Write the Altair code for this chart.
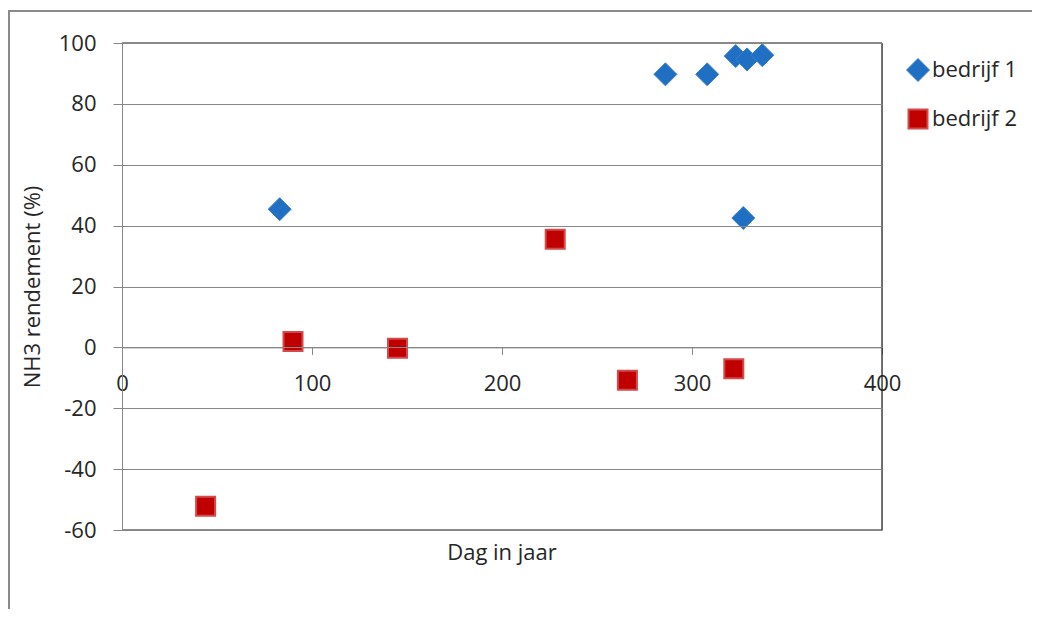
import altair as alt
import pandas as pd

series_names = ["bedrijf 1", "bedrijf 2"]
b1_day = [83, 286, 308, 323, 329, 337, 327]
b1_val = [45.4, 89.7, 89.7, 95.7, 94.6, 96.0, 42.5]
b2_day = [44, 90, 145, 228, 266, 322]
b2_val = [-52.2, 1.9, -0.3, 35.5, -10.8, -7.0]
x_ticks = [0, 100, 200, 300, 400]
y_ticks = [-60, -40, -20, 0, 20, 40, 60, 80, 100]
x_title = "Dag in jaar"
y_title = "NH3 rendement (%)"

rows = [{"series": series_names[0], "day": d, "val": v} for d, v in zip(b1_day, b1_val)]
rows += [{"series": series_names[1], "day": d, "val": v} for d, v in zip(b2_day, b2_val)]
df = pd.DataFrame(rows)

W, H = 760, 487
FONT = "Open Sans"
FS = 22
TXT = "#262626"
GRID = "#878787"
EDGE = "#1a1a1a"
y_min, y_max = -60, 100
x_axis_offset = H * (y_max - 0) / (y_max - y_min) - H
fix_minus = "replace(datum.label, '\u2212', '-')"

one = alt.Data(values=[{}])

frame = alt.Chart(one).mark_rect(
    fill="transparent", stroke="#8a8a8a", strokeWidth=2
).encode(
    x=alt.value(-113), x2=alt.value(W + 300), y=alt.value(-32), y2=alt.value(H + 300)
)

edge_top = alt.Chart(one).mark_rule(color=EDGE, strokeWidth=1.2).encode(
    x=alt.value(0), x2=alt.value(W), y=alt.value(0)
)
edge_bottom = alt.Chart(one).mark_rule(color=EDGE, strokeWidth=1.2).encode(
    x=alt.value(0), x2=alt.value(W), y=alt.value(H)
)
edge_right = alt.Chart(one).mark_rule(color=EDGE, strokeWidth=1.2).encode(
    x=alt.value(W), y=alt.value(0), y2=alt.value(H)
)

xtitle = alt.Chart(one).mark_text(
    text=x_title, font=FONT, fontSize=FS, color=TXT, align="center", baseline="middle"
).encode(x=alt.value(W / 2), y=alt.value(H + 23))

points = alt.Chart(df).mark_point(filled=True, opacity=1).encode(
    x=alt.X(
        "day:Q",
        scale=alt.Scale(domain=[0, 400], nice=False, zero=False),
        axis=alt.Axis(
            values=x_ticks, title="", orient="bottom", offset=x_axis_offset,
            grid=False, tickSize=7, labelPadding=19, labelFlush=False,
            domainColor=GRID, tickColor=GRID, labelFont=FONT, labelFontSize=FS,
            labelColor=TXT,
        ),
    ),
    y=alt.Y(
        "val:Q",
        scale=alt.Scale(domain=[y_min, y_max], nice=False, zero=False),
        axis=alt.Axis(
            values=y_ticks, title=y_title, grid=True, gridColor=GRID,
            tickSize=9, labelPadding=17, domainColor=GRID, tickColor=GRID,
            labelFont=FONT, labelFontSize=FS, labelColor=TXT, labelExpr=fix_minus,
            titleFont=FONT, titleFontSize=FS, titleFontWeight="normal",
            titleColor=TXT, titlePadding=14, zindex=1,
        ),
    ),
    color=alt.Color(
        "series:N",
        scale=alt.Scale(domain=series_names, range=["#1F6FC3", "#C00000"]),
        legend=alt.Legend(
            title=None, orient="none", legendX=784, legendY=15, padding=0,
            labelFont=FONT, labelFontSize=FS, labelColor=TXT, symbolSize=200,
            rowPadding=21, labelOffset=2, symbolStrokeWidth=1,
        ),
    ),
    stroke=alt.Stroke(
        "series:N",
        scale=alt.Scale(domain=series_names, range=["#3A80CC", "#D24A4A"]),
    ),
    shape=alt.Shape(
        "series:N",
        scale=alt.Scale(domain=series_names, range=["diamond", "square"]),
    ),
    size=alt.Size(
        "series:N",
        scale=alt.Scale(domain=series_names, range=[529, 361]),
        legend=None,
    ),
    strokeWidth=alt.StrokeWidth(
        "series:N",
        scale=alt.Scale(domain=series_names, range=[1, 2]),
        legend=None,
    ),
)

chart = alt.layer(frame, edge_top, edge_bottom, edge_right, xtitle, points).properties(
    width=W,
    height=H,
    autosize=alt.AutoSizeParams(type="none"),
    padding={"left": 114, "top": 35, "right": 150, "bottom": 79},
).configure_view(stroke=None).configure(background="white")

chart.save("out.html", embed_options={"renderer": "svg", "actions": False})
